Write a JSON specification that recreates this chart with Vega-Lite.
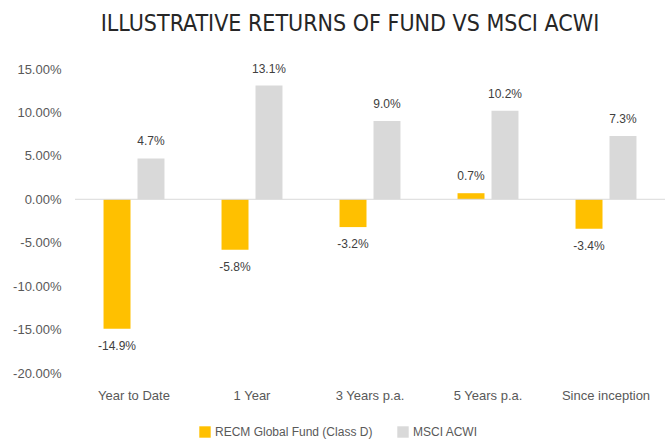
{
  "$schema": "https://vega.github.io/schema/vega-lite/v6.json",
  "width": 590,
  "height": 304,
  "padding": {"left": 12, "top": 12, "right": 2, "bottom": 5},
  "background": "white",
  "title": {
    "text": "ILLUSTRATIVE RETURNS OF FUND VS MSCI ACWI",
    "font": "DejaVu Sans Condensed, Liberation Sans",
    "fontSize": 23,
    "fontWeight": "normal",
    "color": "#262626",
    "anchor": "middle",
    "dx": -20,
    "offset": 27
  },
  "config": {
    "view": {"stroke": null},
    "font": "Liberation Sans",
    "locale": {"number": {"decimal": ".", "thousands": ",", "grouping": [3], "currency": ["$", ""], "minus": "-"}},
    "axis": {"labelFont": "Liberation Sans", "labelColor": "#595959", "labelFontSize": 13}
  },
  "data": {
    "values": [
      {"period": "Year to Date", "series": "RECM Global Fund (Class D)", "value": -0.149},
      {"period": "Year to Date", "series": "MSCI ACWI", "value": 0.047},
      {"period": "1 Year", "series": "RECM Global Fund (Class D)", "value": -0.058},
      {"period": "1 Year", "series": "MSCI ACWI", "value": 0.131},
      {"period": "3 Years p.a.", "series": "RECM Global Fund (Class D)", "value": -0.032},
      {"period": "3 Years p.a.", "series": "MSCI ACWI", "value": 0.090},
      {"period": "5 Years p.a.", "series": "RECM Global Fund (Class D)", "value": 0.007},
      {"period": "5 Years p.a.", "series": "MSCI ACWI", "value": 0.102},
      {"period": "Since inception", "series": "RECM Global Fund (Class D)", "value": -0.034},
      {"period": "Since inception", "series": "MSCI ACWI", "value": 0.073}
    ]
  },
  "encoding": {
    "x": {
      "field": "period",
      "type": "nominal",
      "sort": null,
      "scale": {"paddingInner": 0, "paddingOuter": 0},
      "axis": {"title": null, "labelAngle": 0, "domain": false, "ticks": false, "labelPadding": 16, "grid": false}
    },
    "xOffset": {
      "field": "series",
      "sort": ["RECM Global Fund (Class D)", "MSCI ACWI"],
      "scale": {"paddingInner": 0.206, "paddingOuter": 0.84}
    },
    "y": {
      "field": "value",
      "type": "quantitative",
      "scale": {"domain": [-0.2, 0.15], "nice": false, "zero": false},
      "axis": {"title": null, "format": ".2%", "values": [-0.2, -0.15, -0.1, -0.05, 0, 0.05, 0.1, 0.15], "domain": false, "ticks": false, "grid": false, "labelPadding": 14}
    }
  },
  "layer": [
    {
      "mark": {"type": "bar"},
      "encoding": {
        "color": {
          "field": "series",
          "type": "nominal",
          "sort": ["RECM Global Fund (Class D)", "MSCI ACWI"],
          "scale": {"domain": ["RECM Global Fund (Class D)", "MSCI ACWI"], "range": ["#FFC000", "#D9D9D9"]},
          "legend": {
            "title": null,
            "orient": "none",
            "legendX": 124,
            "legendY": 357,
            "direction": "horizontal",
            "symbolType": "square",
            "symbolSize": 130,
            "symbolStrokeWidth": 0,
            "labelFontSize": 12,
            "labelColor": "#595959",
            "labelFont": "Liberation Sans",
            "labelLimit": 300,
            "labelOffset": 4,
            "columnPadding": 24
          }
        }
      }
    },
    {
      "transform": [{"filter": "datum.value >= 0"}],
      "mark": {"type": "text", "baseline": "bottom", "dy": -10, "fontSize": 12, "color": "#404040", "font": "Liberation Sans"},
      "encoding": {"text": {"field": "value", "format": ".1%"}}
    },
    {
      "transform": [{"filter": "datum.value < 0"}],
      "mark": {"type": "text", "baseline": "top", "dy": 12, "fontSize": 12, "color": "#404040", "font": "Liberation Sans"},
      "encoding": {"text": {"field": "value", "format": ".1%"}}
    },
    {
      "data": {"values": [{"zero": 0}]},
      "mark": {"type": "rule", "color": "#D9D9D9", "strokeWidth": 1},
      "encoding": {"y": {"field": "zero", "type": "quantitative"}, "x": null, "xOffset": null}
    }
  ]
}
